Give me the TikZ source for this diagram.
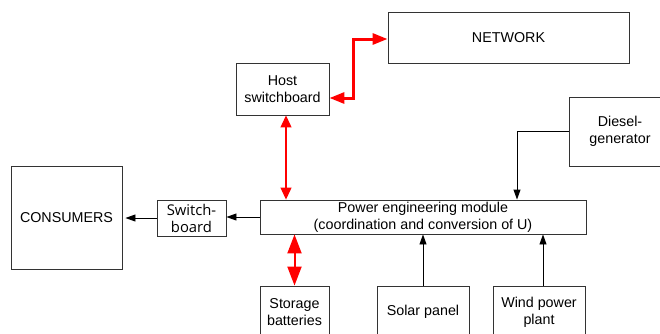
\documentclass[tikz,border=0pt]{standalone}
\usepackage{fontspec}
\setmainfont{Liberation Sans}
\newfontfamily\sbfont{Open Sans}
\usetikzlibrary{arrows.meta}
\definecolor{boxline}{HTML}{333333}
\tikzset{
  blk/.style={draw=boxline, line width=0.9pt, rectangle, inner sep=0pt, align=center,
    font=\fontsize{14.3}{16.8}\selectfont},
  blkarrow/.style={draw=black, line width=0.9pt, -{Triangle[length=10pt,width=7pt]}},
  bigred/.style={draw=red, line width=3pt, {Triangle[length=15pt,width=11pt]}-{Triangle[length=15pt,width=11pt]}},
  thinred/.style={draw=red, line width=1.2pt, {Triangle[length=12pt,width=11pt]}-{Triangle[length=12pt,width=11pt]}},
  medred/.style={draw=red, line width=2pt, {Triangle[length=19pt,width=14pt]}-{Triangle[length=19pt,width=14pt]}},
}
\begin{document}
\begin{tikzpicture}[x=1pt,y=-1pt]
\useasboundingbox[fill=white] (0,0) rectangle (660,333);

\node[blk, minimum width=241pt, minimum height=51pt] (network) at (508.5,37.5) {NETWORK};
\node[blk, minimum width=93pt, minimum height=52pt] (host) at (282.5,89) {Host\\switchboard};
\node[blk, minimum width=102pt, minimum height=69pt] (diesel) at (620,131.5) {Diesel-\\generator};
\node[blk, minimum width=111pt, minimum height=103pt] (consumers) at (66.5,217.5) {CONSUMERS};
\node[blk, minimum width=69pt, minimum height=36pt, font=\sbfont\fontsize{14.8}{17}\selectfont] (switch) at (191.5,218) {Switch-\\board};
\node[blk, minimum width=326pt, minimum height=34pt] (module) at (423,217) {Power engineering module\\(coordination and conversion of U)};
\node[blk, minimum width=69pt, minimum height=52pt] (storage) at (294.5,312) {Storage\\batteries};
\node[blk, minimum width=92pt, minimum height=52pt] (solar) at (423,312) {Solar panel};
\node[blk, minimum width=92pt, minimum height=52pt] (wind) at (539,312) {Wind power\\plant};

% red connections
\draw[bigred] ([yshift=-9pt]host.east) -- ++(24,0) |- ([yshift=-1.5pt]network.west);
\draw[thinred] ([xshift=3.5pt]host.south) -- ([xshift=3.5pt]host.south |- module.north);
\draw[medred] (storage.north) -- (storage.north |- module.south);

% black connections
\draw[blkarrow] (diesel.west) -| ([xshift=94pt]module.north);
\draw[blkarrow] (solar.north) -- (module.south);
\draw[blkarrow] ([xshift=4pt]wind.north) -- ([xshift=4pt]wind.north |- module.south);
\draw[blkarrow] (module.west) -- (module.west -| switch.east);
\draw[blkarrow, shorten >=3pt] (switch.west) -- (switch.west -| consumers.east);
\end{tikzpicture}
\end{document}
